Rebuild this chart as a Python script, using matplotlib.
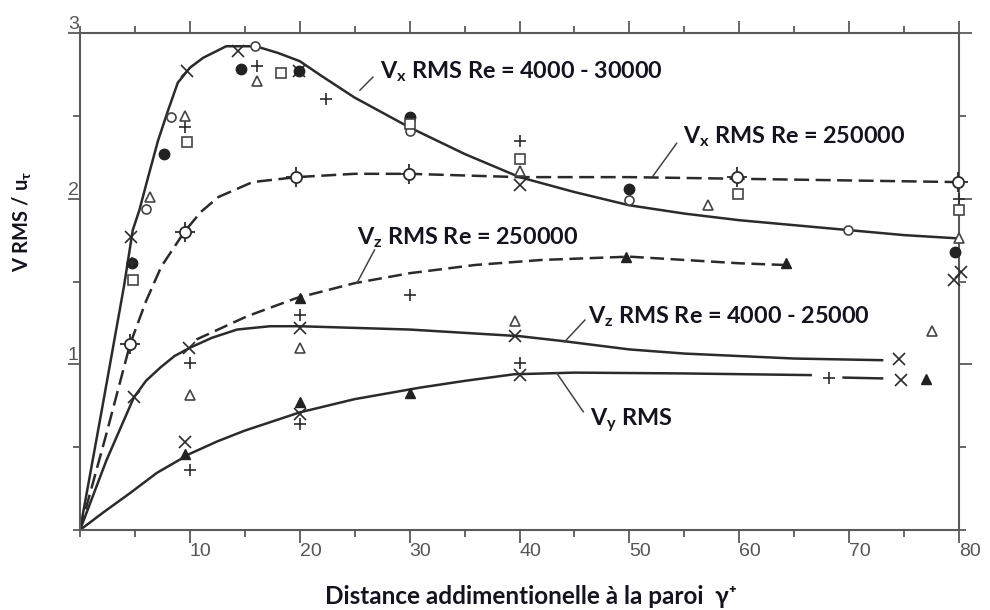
import matplotlib
matplotlib.use("Agg")
import matplotlib.pyplot as plt
from matplotlib.ticker import MultipleLocator, FixedLocator

plt.rcParams['mathtext.fontset'] = 'custom'
plt.rcParams['mathtext.rm'] = 'Lato:bold'
plt.rcParams['mathtext.it'] = 'Lato:bold:italic'
plt.rcParams['mathtext.bf'] = 'Lato:bold'
plt.rcParams['mathtext.fallback'] = 'stixsans'

# ---------------- data ----------------
# curves
vx_low_x = [0, 2, 4, 4.8, 5.4, 6.2, 7.1, 8.0, 8.9, 10, 11.2, 13.3, 16, 18, 20, 22, 25, 30, 35, 40, 45, 50, 55, 60, 65, 70, 75, 80]
vx_low_y = [0, 0.73, 1.47, 1.81, 1.93, 2.13, 2.35, 2.53, 2.70, 2.79, 2.85, 2.92, 2.92, 2.88, 2.83, 2.74, 2.61, 2.43, 2.27, 2.13, 2.04, 1.96, 1.91, 1.87, 1.84, 1.81, 1.78, 1.76]

vx_high_x = [0, 2.4, 4.55, 6.0, 7.4, 9.5, 11.0, 12.6, 15.7, 19.7, 25, 30, 40, 50, 60, 70, 80]
vx_high_y = [0, 0.58, 1.12, 1.38, 1.59, 1.80, 1.92, 2.01, 2.10, 2.13, 2.15, 2.15, 2.13, 2.13, 2.12, 2.11, 2.10]

vz_low_x = [0, 2.4, 4.9, 6.0, 7.3, 8.6, 10, 12, 14.3, 17.3, 20, 25, 30, 35, 40, 44, 50, 55, 60, 65, 73]
vz_low_y = [0, 0.42, 0.80, 0.90, 0.98, 1.05, 1.10, 1.16, 1.21, 1.23, 1.23, 1.22, 1.21, 1.19, 1.17, 1.14, 1.09, 1.065, 1.05, 1.035, 1.025]

vz_high_x = [10.6, 15.2, 19.7, 25, 30, 36, 42, 50, 55, 60, 64]
vz_high_y = [1.15, 1.29, 1.40, 1.49, 1.55, 1.60, 1.63, 1.65, 1.63, 1.61, 1.60]

vy_x = [0, 2.2, 4.5, 7, 10, 12.5, 15, 20, 25, 31, 35, 39.5, 45, 55, 66.5]
vy_y = [0, 0.11, 0.22, 0.345, 0.46, 0.535, 0.60, 0.71, 0.79, 0.86, 0.90, 0.94, 0.95, 0.945, 0.935]
vy_tail_x = [69.5, 73]
vy_tail_y = [0.92, 0.915]

# measured points by symbol
cross_x = [9.7, 14.4, 19.95, 4.6, 40, 79.5, 80.2, 4.9, 9.95, 20, 39.6, 74.5, 9.6, 20, 40, 74.7]
cross_y = [2.77, 2.89, 2.77, 1.77, 2.08, 1.51, 1.56, 0.80, 1.10, 1.22, 1.17, 1.03, 0.53, 0.70, 0.935, 0.905]

ocirc_x = [15.9, 8.3, 6.0, 30, 50, 69.9]
ocirc_y = [2.92, 2.49, 1.94, 2.41, 1.99, 1.81]

fcirc_x = [14.65, 19.95, 7.6, 4.7, 30, 50, 79.6]
fcirc_y = [2.78, 2.77, 2.27, 1.61, 2.49, 2.06, 1.68]

plus_x = [16.1, 22.4, 9.6, 40, 80, 4.7, 20, 30, 10, 10, 20, 40, 68.2]
plus_y = [2.80, 2.60, 2.43, 2.35, 2.00, 1.61, 1.30, 1.42, 1.006, 0.36, 0.64, 1.006, 0.915]

otri_x = [16.1, 9.6, 6.4, 40, 57.2, 80, 10, 20, 39.6, 77.5]
otri_y = [2.71, 2.50, 2.01, 2.17, 1.96, 1.76, 0.815, 1.10, 1.26, 1.20]

osq_x = [18.3, 9.7, 30, 40, 59.9, 80, 4.85]
osq_y = [2.76, 2.34, 2.45, 2.24, 2.03, 1.93, 1.51]

ftri_x = [20, 49.7, 64.3, 9.55, 20, 30, 77]
ftri_y = [1.40, 1.65, 1.61, 0.46, 0.77, 0.825, 0.91]

cplus_x = [4.55, 9.6, 19.7, 29.9, 59.75, 79.9]
cplus_y = [1.12, 1.80, 2.13, 2.15, 2.13, 2.10]

x_ticks = [10, 20, 30, 40, 50, 60, 70, 80]
x_ticklabels = ['10', '20', '30', '40', '50', '60', '70', '80']
y_ticks = [1, 2, 3]
y_ticklabels = ['1', '2', '3']

labels = [
    r"V$_\mathrm{x}$ RMS Re = 4000 - 30000",
    r"V$_\mathrm{x}$ RMS Re = 250000",
    r"V$_\mathrm{z}$ RMS Re = 250000",
    r"V$_\mathrm{z}$ RMS Re = 4000 - 25000",
    r"V$_\mathrm{y}$ RMS",
]

# ---------------- figure ----------------
fig = plt.figure(figsize=(9.9, 6.1), dpi=100)
ax = fig.add_axes([80/990, 80/610, 879/990, 497/610])
ax.set_xlim(0, 80)
ax.set_ylim(0, 3)

ink = '#2b2b2b'
lw = 1.8
ax.plot(vx_low_x, vx_low_y, color=ink, lw=lw, solid_joinstyle='round')
ax.plot(vx_high_x, vx_high_y, color=ink, lw=lw, linestyle=(0, (6, 2.6)))
ax.plot(vz_low_x, vz_low_y, color=ink, lw=lw, solid_joinstyle='round')
ax.plot(vz_high_x, vz_high_y, color=ink, lw=lw, linestyle=(0, (5.5, 2.6)))
ax.plot(vy_x, vy_y, color=ink, lw=lw, solid_joinstyle='round')
ax.plot(vy_tail_x, vy_tail_y, color=ink, lw=lw)

mk = dict(linestyle='none', clip_on=False, zorder=4)
ax.plot(cross_x, cross_y, marker='x', ms=9, mew=1.2, color=ink, **mk)
ax.plot(ocirc_x, ocirc_y, marker='o', ms=6.5, mew=1.2, mfc='white', mec='#444', **mk)
ax.plot(fcirc_x, fcirc_y, marker='o', ms=7.5, color='#222', **mk)
ax.plot(plus_x, plus_y, marker='+', ms=9, mew=1.2, color=ink, **mk)
ax.plot(otri_x, otri_y, marker='^', ms=6.5, mew=1.2, mfc='white', mec='#444', **mk)
ax.plot(osq_x, osq_y, marker='s', ms=6.5, mew=1.2, mfc='white', mec='#444', **mk)
ax.plot(ftri_x, ftri_y, marker='^', ms=7, color='#222', **mk)
ax.plot(cplus_x, cplus_y, marker='+', ms=15, mew=1.3, color=ink, **mk)
ax.plot(cplus_x, cplus_y, marker='o', ms=8, mew=1.3, mfc='white', mec=ink, **mk)

# axes frame and ticks
for s in ax.spines.values():
    s.set_color('#5a5a5a')
    s.set_linewidth(1.5)
ax.xaxis.set_major_locator(FixedLocator(x_ticks))
ax.xaxis.set_minor_locator(MultipleLocator(5))
ax.yaxis.set_major_locator(FixedLocator(y_ticks))
ax.yaxis.set_minor_locator(MultipleLocator(0.5))
ax.set_xticklabels(x_ticklabels)
ax.set_yticklabels(y_ticklabels)
ax.tick_params(which='both', direction='out', top=True, right=True, color='#5a5a5a', width=1.3)
ax.tick_params(which='major', length=9)
ax.tick_params(which='minor', length=5)
ax.tick_params(axis='x', which='major', pad=0.5, labelsize=14, labelcolor='#555')
ax.tick_params(axis='y', which='major', pad=-8, labelsize=14, labelcolor='#555')
for t in ax.get_xticklabels():
    t.set_horizontalalignment('left')
    t.set_fontfamily('Liberation Sans')
for t in ax.get_yticklabels():
    t.set_verticalalignment('bottom')
    t.set_fontfamily('Liberation Sans')

# annotations
txt = '#14141f'
tfont = dict(family=['Lato', 'DejaVu Sans'], weight='bold', size=16.8, color=txt)
ann = [
    (labels[0], (27.3, 2.764), ((26.66, 2.734), (25.48, 2.655))),
    (labels[1], (54.9, 2.372), ((54.3, 2.334), (52.1, 2.132))),
    (labels[2], (25.2, 1.762), ((26.8, 1.69), (25.2, 1.49))),
    (labels[3], (46.2, 1.29), ((45.95, 1.267), (44.1, 1.136))),
    (labels[4], (46.4, 0.664), ((45.8, 0.714), (43.4, 0.946))),
]
for s, (tx, ty), ((x0, y0), (x1, y1)) in ann:
    ax.text(tx, ty, s, ha='left', va='center', **tfont)
    ax.plot([x0, x1], [y0, y1], color='#444', lw=1.1)

fig.text(22/990, 1 - 221/610, r"V RMS / u$_\mathrm{\tau}$", rotation=90, ha='center', va='center',
         family=['Lato', 'DejaVu Sans'], weight='bold', size=14.5, color=txt)
fig.text(531/990, 1 - 597/610, "Distance addimentionelle à la paroi  γ⁺", ha='center', va='center',
         family=['Lato', 'DejaVu Sans'], weight='bold', size=17.5, color=txt)

fig.savefig('out.png', dpi=100, facecolor='white')
